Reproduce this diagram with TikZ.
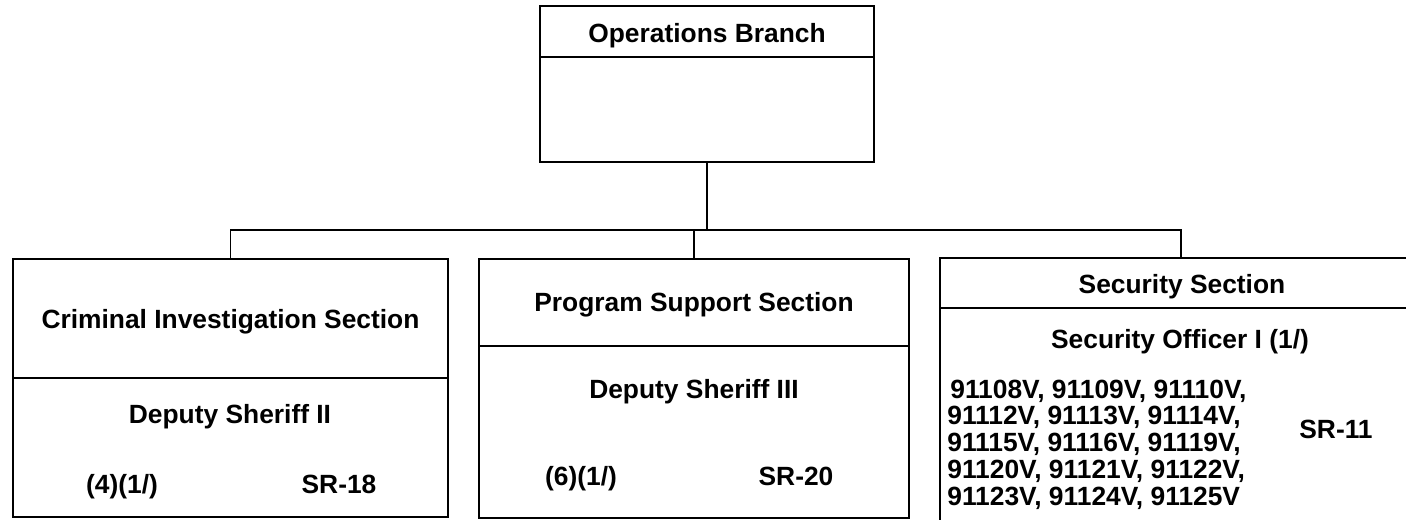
\documentclass[tikz,border=0pt]{standalone}
\usepackage{fontspec}
\setmainfont{Liberation Sans}
\begin{document}
\begin{tikzpicture}[
    box/.style={draw, line width=0.6pt, inner sep=0pt},
    divider/.style={line width=1.1pt},
    link/.style={line width=0.6pt},
    txt/.style={anchor=base, inner sep=0pt, font=\bfseries\fontsize{15}{15.2}\selectfont}]
  \useasboundingbox (0,0) rectangle (28.12,-10.38);
  \clip (0,0) rectangle (28.12,-10.38);
  % --- Operations Branch ---
  \node[box, minimum width=6.68cm, minimum height=3.12cm] (ops) at (14.14,-1.68) {};
  \draw[divider] (ops.west |- 0,-1.14) -- (ops.east |- 0,-1.14);
  \node[txt] (opsT) at (14.14,-0.84) {Operations Branch};

  % --- Criminal Investigation Section ---
  \node[box, minimum width=8.70cm, minimum height=5.16cm] (cis) at (4.61,-7.76) {};
  \draw[divider] (cis.west |- 0,-7.56) -- (cis.east |- 0,-7.56);
  \node[txt] (cisT) at (4.61,-6.56) {Criminal Investigation Section};
  \node[txt] (cisJob) at (4.60,-8.46) {Deputy Sheriff II};
  \node[txt] (cisNum) at (2.44,-9.86) {(4)(1/)};
  \node[txt] (cisSR) at (6.78,-9.86) {SR-18};

  % --- Program Support Section ---
  \node[box, minimum width=8.60cm, minimum height=5.18cm] (pss) at (13.88,-7.77) {};
  \draw[divider] (pss.west |- 0,-6.92) -- (pss.east |- 0,-6.92);
  \node[txt] (pssT) at (13.88,-6.23) {Program Support Section};
  \node[txt] (pssJob) at (13.88,-7.96) {Deputy Sheriff III};
  \node[txt] (pssNum) at (11.62,-9.70) {(6)(1/)};
  \node[txt] (pssSR) at (15.92,-9.70) {SR-20};

  % --- Security Section (cut off on the right) ---
  \node[box, minimum width=9.64cm, minimum height=5.44cm] (sec) at (23.62,-7.88) {};
  \draw[divider] (sec.west |- 0,-6.16) -- (sec.east |- 0,-6.16);
  \node[txt] (secT) at (23.64,-5.87) {Security Section};
  \node[txt] (secJob) at (23.60,-6.97) {Security Officer I (1/)};
  % base of a multi-line node = baseline of its last line
  \node[txt, anchor=base west, align=left] (secIds) at (18.94,-10.10)
    {\hspace{0.06cm}91108V, 91109V, 91110V,\\
     91112V, 91113V, 91114V,\\
     91115V, 91116V, 91119V,\\
     91120V, 91121V, 91122V,\\
     91123V, 91124V, 91125V};
  \node[txt] (secSR) at (26.72,-8.76) {SR-11};

  % --- connectors ---
  \coordinate (bus) at (14.14,-4.60);
  \draw[link] (ops.south) -- (bus);
  \draw[link] (cis.north) |- (bus) -| (sec.north);
  \draw[link] (pss.north) -- (pss.north |- bus);
\end{tikzpicture}
\end{document}
